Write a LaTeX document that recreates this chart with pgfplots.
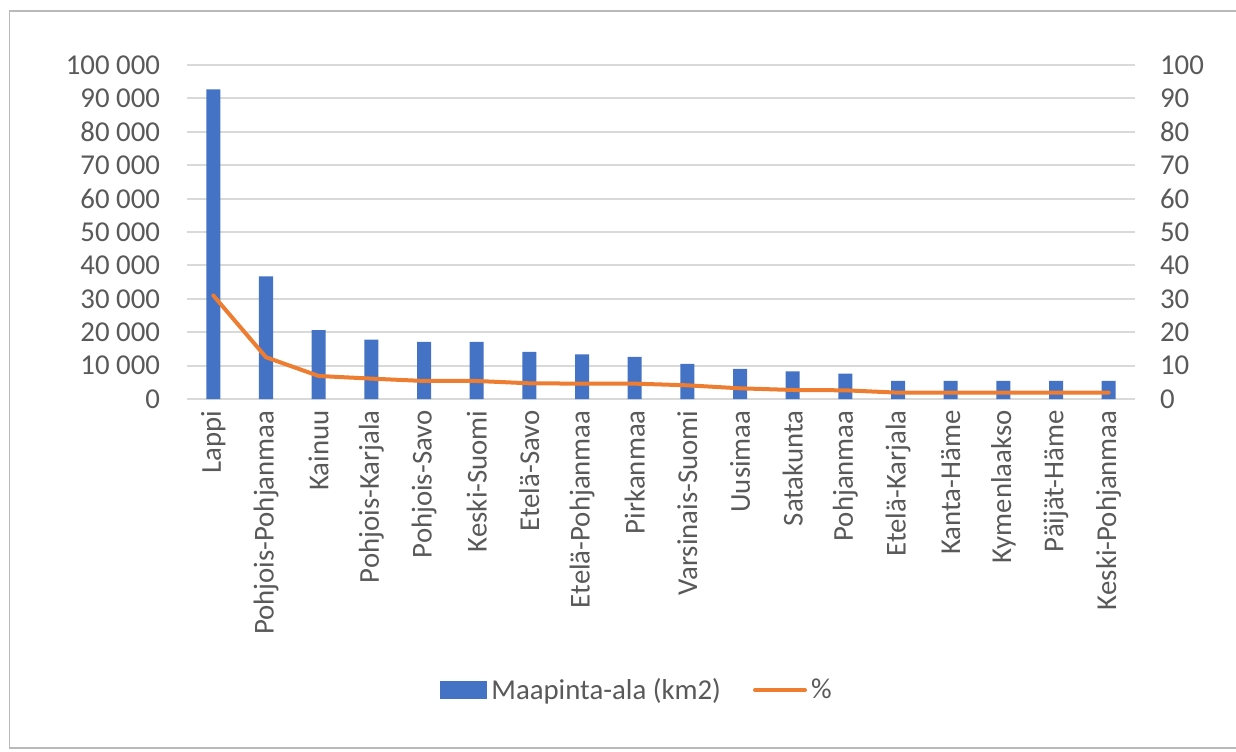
\documentclass[border=0pt]{standalone}
\usepackage{fontspec}
\setmainfont{Carlito}
\usepackage{pgfplots}
\pgfplotsset{compat=1.18}
\usepackage{pgfplotstable}

\definecolor{barblue}{HTML}{4472C4}
\definecolor{lineorange}{HTML}{ED7D31}
\definecolor{txtgray}{HTML}{595959}
\definecolor{gridgray}{HTML}{D9D9D9}

% region, land area (km2), share (%)
\pgfplotstableread{
x area pct
0 92700 31.0
1 36700 12.5
2 20600 6.9
3 17800 6.1
4 17100 5.4
5 17100 5.4
6 14100 4.7
7 13400 4.6
8 12600 4.6
9 10500 4.1
10 9000 3.2
11 8300 2.7
12 7600 2.6
13 5400 1.9
14 5400 1.9
15 5400 1.9
16 5400 1.9
17 5400 1.9
}\maakunnat

\begin{document}
\begin{tikzpicture}
\pgfplotsset{
  common/.style={
    scale only axis,
    width=474pt, height=167pt,
    at={(0,0)}, anchor=south west,
    xmin=-0.5, xmax=17.5,
    axis line style={draw=none},
    major tick length=0pt,
    ticklabel style={font=\fontsize{14.4}{17}\selectfont, text=txtgray},
    /pgf/number format/assume math mode=true,
  },
}
\begin{axis}[
  common,
  ymin=0, ymax=100000,
  ytick={0,10000,...,100000},
  scaled y ticks=false,
  /pgf/number format/1000 sep={\ },
  /pgf/number format/fixed,
  yticklabel style={xshift=-10pt},
  ymajorgrids,
  grid style={gridgray, line width=1pt},
  xtick=data,
  xticklabels={Lappi, Pohjois-Pohjanmaa, Kainuu, Pohjois-Karjala, Pohjois-Savo,
    Keski-Suomi, Etelä-Savo, Etelä-Pohjanmaa, Pirkanmaa, Varsinais-Suomi,
    Uusimaa, Satakunta, Pohjanmaa, Etelä-Karjala, Kanta-Häme, Kymenlaakso,
    Päijät-Häme, Keski-Pohjanmaa},
  xticklabel style={rotate=90, anchor=east, inner sep=0pt, xshift=-5.5pt},
  legend style={at={(225.5pt,-145.5pt)}, anchor=center, draw=none,
    legend columns=2, font=\fontsize{14.4}{17}\selectfont, text=txtgray,
    /tikz/every even column/.append style={column sep=14pt}},
]
\addplot[ybar, bar width=7pt, fill=barblue, draw=none,
  area legend,
  legend image code/.code={\fill[barblue] (0pt,-4.5pt) rectangle (23.5pt,4.5pt);}]
  table[x=x, y=area] {\maakunnat};
\addlegendentry{Maapinta-ala (km2)}
\addlegendimage{legend image code/.code={\draw[lineorange, line width=2pt, line cap=round] (0pt,0pt) -- (25pt,0pt);}}
\addlegendentry{\%}
\end{axis}
\begin{axis}[
  common,
  ymin=0, ymax=100,
  ytick={0,10,...,100},
  axis y line*=right,
  axis x line=none,
  yticklabel style={anchor=west, xshift=9pt},
]
\addplot[lineorange, line width=2pt, line join=round, line cap=round]
  table[x=x, y=pct] {\maakunnat};
\end{axis}
\pgfresetboundingbox
\path[use as bounding box] (-93.5pt,-176pt) rectangle (524.5pt,199.5pt);
\draw[gray!55, line width=0.6pt] (530pt,194pt) -- (-88.75pt,194pt) -- (-88.75pt,-174.5pt) -- (530pt,-174.5pt);
\end{tikzpicture}
\end{document}
